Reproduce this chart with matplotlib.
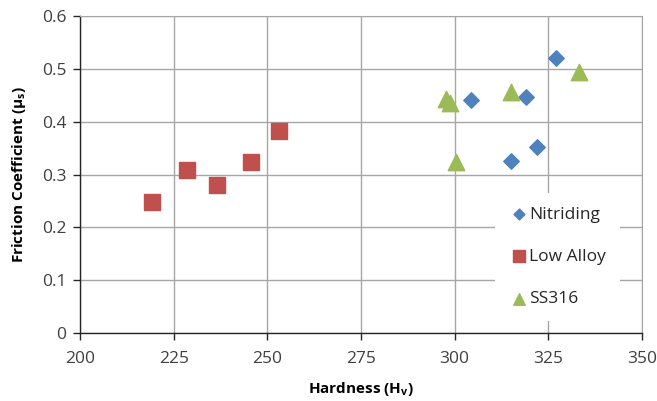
import matplotlib
matplotlib.use("Agg")
import matplotlib.pyplot as plt

# data
nitriding_hv = [327.2, 304.3, 319.0, 315.0, 322.1]
nitriding_mu = [0.520, 0.441, 0.446, 0.326, 0.352]

low_alloy_hv = [219.2, 228.6, 236.6, 245.6, 253.1]
low_alloy_mu = [0.248, 0.309, 0.280, 0.324, 0.383]

ss316_hv = [333.3, 315.0, 297.6, 298.9, 300.3]
ss316_mu = [0.494, 0.457, 0.443, 0.436, 0.323]

x_ticks = [200, 225, 250, 275, 300, 325, 350]
y_ticks = [0, 0.1, 0.2, 0.3, 0.4, 0.5, 0.6]

plt.rcParams['font.family'] = ['Open Sans', 'DejaVu Sans']
plt.rcParams['mathtext.fontset'] = 'custom'
plt.rcParams['mathtext.rm'] = 'Open Sans'
plt.rcParams['mathtext.bf'] = 'Open Sans:bold'

fig = plt.figure(figsize=(6.57, 4.01), dpi=100)
ax = fig.add_axes([0.1218, 0.1696, 0.8552, 0.7904])

grid_col = '#a6a6a6'
ax.scatter(nitriding_hv, nitriding_mu, marker='D', s=62, color='#4F81BD', label='Nitriding', zorder=3)
ax.scatter(low_alloy_hv, low_alloy_mu, marker='s', s=130, color='#C0504D', label='Low Alloy', zorder=3)
ax.scatter(ss316_hv, ss316_mu, marker='^', s=140, color='#9BBB59', label='SS316', zorder=3)

ax.set_xlim(200, 350)
ax.set_ylim(0, 0.6)
ax.set_xticks(x_ticks)
ax.set_yticks(y_ticks)
ax.set_yticklabels(['0', '0.1', '0.2', '0.3', '0.4', '0.5', '0.6'])
ax.grid(True, color=grid_col, linewidth=1.0)
ax.set_axisbelow(True)

for side in ['top', 'right']:
    ax.spines[side].set_color(grid_col)
for side in ['left', 'bottom']:
    ax.spines[side].set_color('#262626')
    ax.spines[side].set_linewidth(1.0)
ax.tick_params(axis='both', direction='out', length=5, width=1, color='#262626',
               labelsize=12.5, labelcolor='#404040', pad=5)
ax.tick_params(axis='x', pad=8)

ax.set_xlabel(r'Hardness (H$_\mathbf{v}$)', fontsize=11, fontweight='bold', labelpad=9)
ax.set_ylabel(r'Friction Coefficient ($\mathbf{\mu_s}$)', fontsize=11, fontweight='bold', labelpad=10)

leg = ax.legend(loc='upper left', bbox_to_anchor=(0.724, 0.47), frameon=True, fancybox=False,
                edgecolor='none', facecolor='white', framealpha=1, fontsize=12.5,
                labelspacing=1.5, handletextpad=0.05, handlelength=1.1, markerscale=0.7,
                borderpad=0.8)
for t in leg.get_texts():
    t.set_color('#262626')

fig.savefig('out.png', dpi=100)
